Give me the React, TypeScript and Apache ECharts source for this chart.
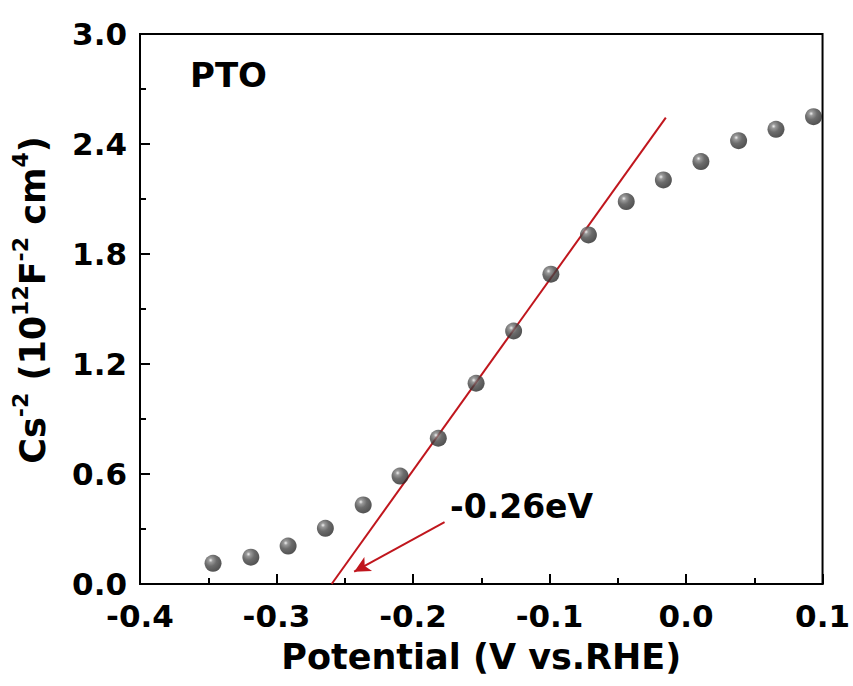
import React, { useEffect, useRef } from "react";
import * as echarts from "echarts";

const potential = [-0.3465, -0.3188, -0.2915, -0.2642, -0.2365, -0.2095, -0.1815, -0.1538, -0.1263, -0.099, -0.0715, -0.0438, -0.0166, 0.0109, 0.0385, 0.0659, 0.0934];
const csInv2 = [0.113, 0.146, 0.207, 0.304, 0.431, 0.589, 0.795, 1.095, 1.38, 1.69, 1.904, 2.086, 2.204, 2.304, 2.418, 2.48, 2.549];
const fitX = [-0.2596, -0.0148];
const fitY = [0, 2.544];
const arrowFrom = [-0.1769, 0.337];
const arrowTo = [-0.2431, 0.067];
const annotation = "-0.26eV";
const sampleLabel = "PTO";
const xTitle = "Potential (V vs.RHE)";

const FONT = "DejaVu Sans";
const RED = "#c0161d";

export default function App() {
  const ref = useRef<HTMLDivElement>(null);
  useEffect(() => {
    if (!ref.current) return;
    const chart = echarts.init(ref.current, null, { renderer: "svg" });
    const sphere = new echarts.graphic.RadialGradient(0.36, 0.32, 0.7, [
      { offset: 0, color: "#eeeeee" },
      { offset: 0.18, color: "#808080" },
      { offset: 0.5, color: "#474747" },
      { offset: 1, color: "#262626" },
    ]);
    const main = { fontSize: 35, fontWeight: "bold", fontFamily: FONT, color: "#000", lineHeight: 41, verticalAlign: "bottom" };
    const sup = { fontSize: 22, fontWeight: "bold", fontFamily: FONT, color: "#000", lineHeight: 41, verticalAlign: "top" };
    chart.setOption({
      animation: false,
      backgroundColor: "#fff",
      grid: { left: 140, right: 28, top: 34, bottom: 102, show: true, borderColor: "#000", borderWidth: 2, backgroundColor: "transparent" },
      xAxis: {
        type: "value",
        min: -0.4,
        max: 0.1,
        interval: 0.1,
        name: xTitle,
        nameLocation: "middle",
        nameGap: 55,
        nameTextStyle: { fontSize: 35, fontWeight: "bold", fontFamily: FONT, color: "#000" },
        axisLine: { show: true, onZero: false, lineStyle: { color: "#000", width: 2 } },
        axisTick: { show: true, inside: true, length: 10, lineStyle: { color: "#000", width: 2 } },
        minorTick: { show: true, splitNumber: 2, length: 6, lineStyle: { color: "#000", width: 2 } },
        splitLine: { show: false },
        axisLabel: { margin: 16, fontSize: 31, fontWeight: "bold", fontFamily: FONT, color: "#000", formatter: (v: number) => v.toFixed(1) },
      },
      yAxis: {
        type: "value",
        min: 0,
        max: 3.0,
        interval: 0.6,
        name: "{m|Cs}{s|-2}{m| (10}{s|12}{m|F}{s|-2}{m| cm}{s|4}{m|)}",
        nameLocation: "middle",
        nameRotate: 90,
        nameGap: 90,
        nameTextStyle: { padding: [0, 0, 0, 18], rich: { m: main, s: sup } },
        axisLine: { show: true, onZero: false, lineStyle: { color: "#000", width: 2 } },
        axisTick: { show: true, inside: true, length: 10, lineStyle: { color: "#000", width: 2 } },
        minorTick: { show: true, splitNumber: 2, length: 6, lineStyle: { color: "#000", width: 2 } },
        splitLine: { show: false },
        axisLabel: { margin: 13, fontSize: 31, fontWeight: "bold", fontFamily: FONT, color: "#000", formatter: (v: number) => v.toFixed(1) },
      },
      series: [
        {
          type: "line",
          data: fitX.map((x, i) => [x, fitY[i]]),
          showSymbol: false,
          symbol: "none",
          lineStyle: { color: RED, width: 2 },
          z: 2,
          markLine: {
            silent: true,
            symbol: ["none", "arrow"],
            symbolSize: [12, 16],
            lineStyle: { color: RED, width: 2, type: "solid" },
            label: { show: false },
            data: [[{ coord: arrowFrom }, { coord: arrowTo }]],
          },
        },
        {
          type: "scatter",
          data: potential.map((x, i) => [x, csInv2[i]]),
          symbol: "circle",
          symbolSize: 17,
          itemStyle: { color: sphere },
          z: 3,
        },
      ],
      graphic: [
        { type: "text", left: 190, top: 58, style: { text: sampleLabel, fontSize: 34, fontWeight: "bold", fontFamily: FONT, fill: "#000" } },
        { type: "text", left: 450, top: 490, style: { text: annotation, fontSize: 33, fontWeight: "bold", fontFamily: FONT, fill: "#000" } },
      ],
    });
    return () => chart.dispose();
  }, []);
  return <div ref={ref} style={{ position: "fixed", left: 0, top: 0, width: 853, height: 686, background: "#fff" }} />;
}
